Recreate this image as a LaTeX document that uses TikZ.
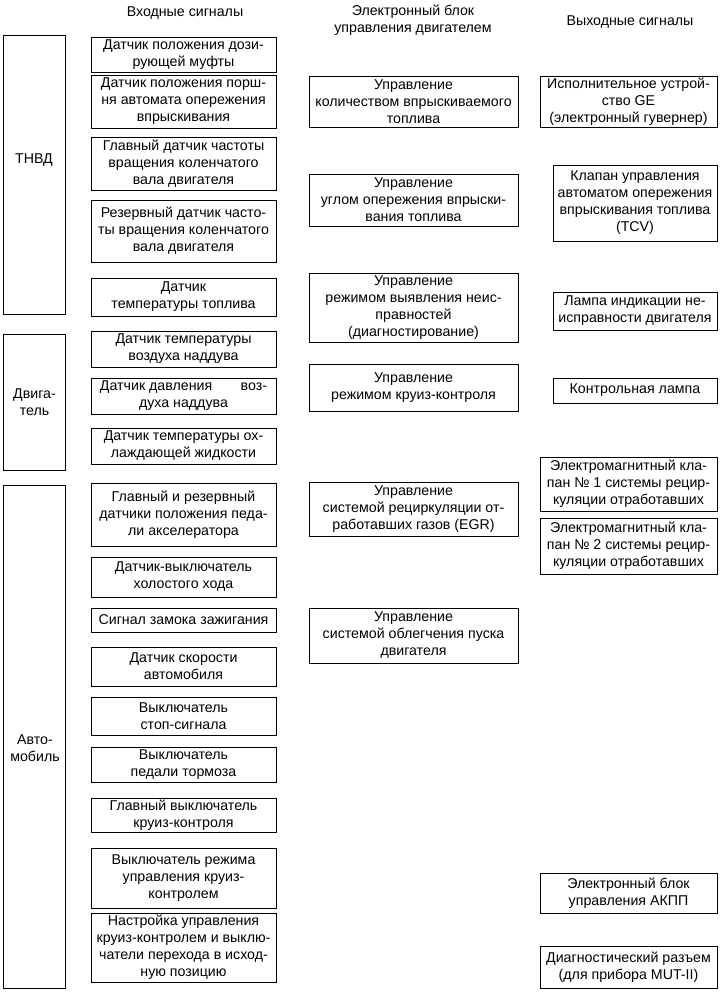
\documentclass[tikz,border=0pt]{standalone}
\usepackage{fontspec}
\setmainfont{Liberation Sans}
\tikzset{
	kasten/.style={draw=black, line width=1pt, align=center, inner sep=0pt,
		font=\fontsize{14.2}{17}\selectfont},
	eingang/.style={kasten, minimum width=185},
	steuer/.style={kasten, minimum width=209},
	ausgang/.style={kasten, minimum width=177},
	ausgangk/.style={kasten, minimum width=164},
	gruppe/.style={kasten, minimum width=62},
	titel/.style={align=center, inner sep=0pt, font=\fontsize{14.2}{17}\selectfont}
}
\begin{document}
\begin{tikzpicture}[x=1pt, y=-1pt]
	\useasboundingbox (0,0) rectangle (725,994);
	% Ueberschriften
	\node[titel] (tein) at (185, 13) {Входные сигналы};
	\node[titel] (tsteuer) at (413, 20) {Электронный блок\\управления двигателем};
	\node[titel] (taus) at (630, 22) {Выходные сигналы};

	% Gruppen links
	\node[gruppe, minimum height=279] (tnvd) at (34, 174.5) {};
	\node[titel] (tnvdtxt) at (34, 160) {ТНВД};
	\node[gruppe, minimum height=136] (motor) at (34.5, 402) {Двига-\\тель};
	\node[gruppe, minimum height=503] (auto) at (34.5, 736.5) {};
	\node[titel] (autotxt) at (35, 748) {Авто-\\мобиль};

	% Eingangssignale
	\node[eingang, minimum height=35] (ein1) at (183.5, 54.5) {Датчик положения дози-\\рующей муфты};
	\node[eingang, minimum height=53] (ein2) at (183.5, 101.5) {Датчик положения порш-\\ня автомата опережения\\впрыскивания};
	\node[eingang, minimum height=53] (ein3) at (183.5, 163.5) {Главный датчик частоты\\вращения коленчатого\\вала двигателя};
	\node[eingang, minimum height=62] (ein4) at (183.5, 231) {Резервный датчик часто-\\ты вращения коленчатого\\вала двигателя};
	\node[eingang, minimum height=38] (ein5) at (183.5, 297) {Датчик\\температуры топлива};
	\node[eingang, minimum height=36] (ein6) at (183.5, 349) {Датчик температуры\\воздуха наддува};
	\node[eingang, minimum height=36] (ein7) at (183.5, 396) {Датчик давления\hspace{2em}воз-\\духа наддува};
	\node[eingang, minimum height=36] (ein8) at (183.5, 446) {Датчик температуры ох-\\лаждающей жидкости};
	\node[eingang, minimum height=63] (ein9) at (183.5, 514.5) {Главный и резервный\\датчики положения педа-\\ли акселератора};
	\node[eingang, minimum height=40] (ein10) at (183.5, 577) {Датчик-выключатель\\холостого хода};
	\node[eingang, minimum height=24] (ein11) at (183.5, 620) {Сигнал замока зажигания};
	\node[eingang, minimum height=39] (ein12) at (183.5, 666.5) {Датчик скорости\\автомобиля};
	\node[eingang, minimum height=38] (ein13) at (183.5, 716) {Выключатель\\стоп-сигнала};
	\node[eingang, minimum height=35] (ein14) at (183.5, 764.5) {Выключатель\\педали тормоза};
	\node[eingang, minimum height=34] (ein15) at (183.5, 815) {Главный выключатель\\круиз-контроля};
	\node[eingang, minimum height=60] (ein16) at (183.5, 878) {Выключатель режима\\управления круиз-\\контролем};
	\node[eingang, minimum height=69] (ein17) at (183.5, 947.5) {Настройка управления\\круиз-контролем и выклю-\\чатели перехода в исход-\\ную позицию};

	% Steuerblock
	\node[steuer, minimum height=51] (steu1) at (413.5, 101.5) {Управление\\количеством впрыскиваемого\\топлива};
	\node[steuer, minimum height=52] (steu2) at (413.5, 200) {Управление\\углом опережения впрыски-\\вания топлива};
	\node[steuer, minimum height=69] (steu3) at (413.5, 307.5) {Управление\\режимом выявления неис-\\правностей\\(диагностирование)};
	\node[steuer, minimum height=47] (steu4) at (413.5, 387.5) {Управление\\режимом круиз-контроля};
	\node[steuer, minimum height=54] (steu5) at (413.5, 509) {Управление\\системой рециркуляции от-\\работавших газов (EGR)};
	\node[steuer, minimum height=55] (steu6) at (413.5, 635.5) {Управление\\системой облегчения пуска\\двигателя};

	% Ausgangssignale
	\node[ausgang, minimum height=51] (aus1) at (628.5, 101.5) {Исполнительное устрой-\\ство GE\\(электронный гувернер)};
	\node[ausgangk, minimum height=76] (aus2) at (635, 203) {Клапан управления\\автоматом опережения\\впрыскивания топлива\\(TCV)};
	\node[ausgangk, minimum height=38] (aus3) at (635, 311) {Лампа индикации не-\\исправности двигателя};
	\node[ausgangk, minimum height=25] (aus4) at (635, 390.5) {Контрольная лампа};
	\node[ausgang, minimum height=54] (aus5) at (628.5, 484) {Электромагнитный кла-\\пан № 1 системы рецир-\\куляции отработавших};
	\node[ausgang, minimum height=56] (aus6) at (628.5, 546) {Электромагнитный кла-\\пан № 2 системы рецир-\\куляции отработавших};
	\node[ausgang, minimum height=40] (aus7) at (628.5, 893) {Электронный блок\\управления АКПП};
	\node[ausgang, minimum height=42] (aus8) at (628.5, 967) {Диагностический разъем\\(для прибора MUT-II)};
\end{tikzpicture}
\end{document}
